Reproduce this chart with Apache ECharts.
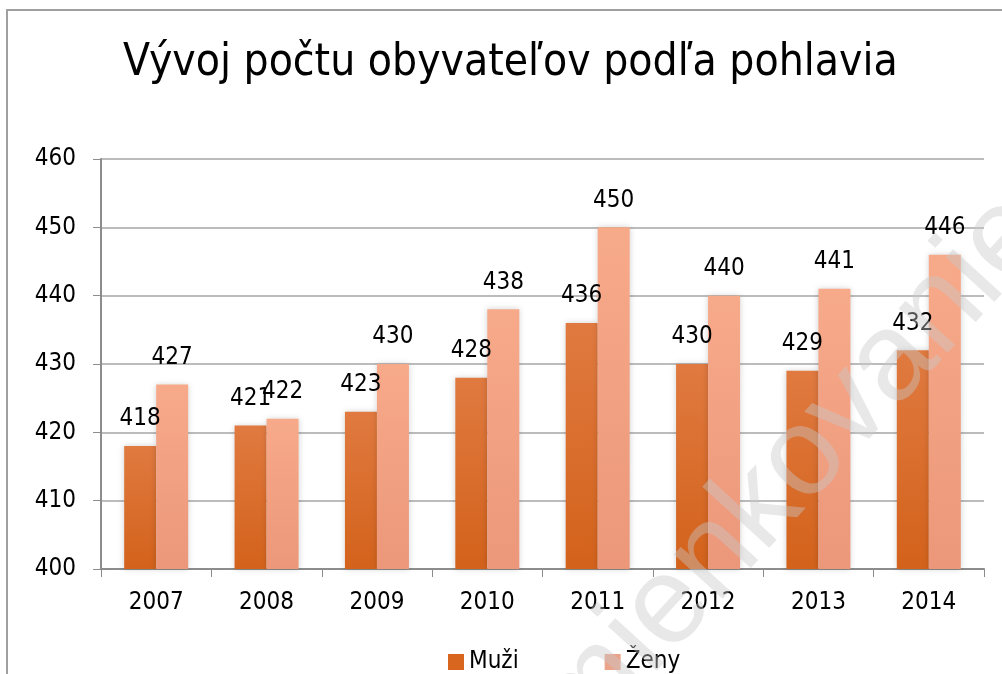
<!DOCTYPE html>
<html>
<head>
<meta charset="utf-8">
<script src="https://cdn.jsdelivr.net/npm/echarts@6/dist/echarts.min.js"></script>
<style>
  html, body { margin: 0; padding: 0; background: #fff; }
  #chart { width: 1002px; height: 674px; }
</style>
</head>
<body>
<div id="chart"></div>
<script>
// data
var years = ['2007', '2008', '2009', '2010', '2011', '2012', '2013', '2014'];
var muzi = [418, 421, 423, 428, 436, 430, 429, 432];
var zeny = [427, 422, 430, 438, 450, 440, 441, 446];
var yTicks = { min: 400, max: 460, interval: 10 };

var textFont = '"DejaVu Sans Condensed", "DejaVu Sans", sans-serif';

var chart = echarts.init(document.getElementById('chart'));

function barLabel() {
  return {
    show: true,
    position: 'top',
    distance: 15,
    color: '#000',
    fontFamily: textFont,
    fontSize: 24
  };
}

var option = {
  backgroundColor: '#fff',
  animation: false,
  title: {
    text: 'Vývoj počtu obyvateľov podľa pohlavia',
    left: 118,
    top: 37,
    textStyle: {
      fontFamily: textFont,
      fontWeight: 'normal',
      fontSize: 44,
      color: '#000'
    }
  },
  legend: {
    left: 443,
    top: 645,
    itemWidth: 16,
    itemHeight: 16,
    itemGap: 86,
    icon: 'rect',
    textStyle: { fontFamily: textFont, fontSize: 24, color: '#000' },
    data: [
      { name: 'Muži', itemStyle: { color: '#d9661f' } },
      { name: 'Ženy', itemStyle: { color: '#eba38a' } }
    ]
  },
  grid: { left: 101, right: 18, top: 159, bottom: 105 },
  xAxis: {
    type: 'category',
    data: years,
    axisLine: { lineStyle: { color: '#8c8c8c', width: 2 } },
    axisTick: { show: true, length: 8, lineStyle: { color: '#8c8c8c' } },
    axisLabel: { color: '#000', fontFamily: textFont, fontSize: 24, margin: 22 }
  },
  yAxis: {
    type: 'value',
    min: yTicks.min,
    max: yTicks.max,
    interval: yTicks.interval,
    axisLine: { show: true, lineStyle: { color: '#8c8c8c', width: 2 } },
    axisTick: { show: true, length: 8, lineStyle: { color: '#8c8c8c' } },
    axisLabel: { color: '#000', fontFamily: textFont, fontSize: 24, margin: 25 },
    splitLine: { lineStyle: { color: '#a6a6a6', width: 1.5 } }
  },
  series: [
    {
      name: 'Muži',
      type: 'bar',
      data: muzi,
      barWidth: 32,
      barGap: '0%',
      itemStyle: {
        color: new echarts.graphic.LinearGradient(0, 0, 0, 1, [
          { offset: 0, color: '#e07a40' },
          { offset: 1, color: '#d3621b' }
        ]),
        shadowBlur: 6,
        shadowColor: 'rgba(0,0,0,0.18)'
      },
      label: barLabel()
    },
    {
      name: 'Ženy',
      type: 'bar',
      data: zeny,
      barWidth: 32,
      itemStyle: {
        color: new echarts.graphic.LinearGradient(0, 0, 0, 1, [
          { offset: 0, color: '#f7aa8a' },
          { offset: 1, color: '#ec977a' }
        ]),
        shadowBlur: 6,
        shadowColor: 'rgba(0,0,0,0.18)'
      },
      label: barLabel()
    }
  ],
  graphic: [
    // frame of the document box
    {
      type: 'polyline',
      silent: true,
      z: 0,
      shape: { points: [[7, 674], [7, 10], [1002, 10]] },
      style: { stroke: '#a0a0a0', lineWidth: 2, fill: null }
    },
    // watermark
    {
      type: 'text',
      silent: true,
      z: 100,
      x: 1075,
      y: 255,
      rotation: 0.83,
      style: {
        text: 'Na pripomienkovanie',
        fontFamily: 'Liberation Sans',
        fontSize: 125,
        fill: 'rgba(200,200,200,0.42)',
        align: 'right',
        verticalAlign: 'bottom'
      }
    }
  ]
};

chart.setOption(option);
</script>
</body>
</html>
